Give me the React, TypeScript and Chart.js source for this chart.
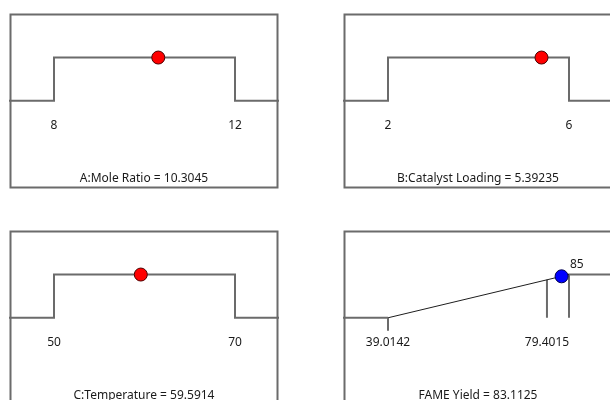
import React, { useEffect, useRef } from "react";
import { Chart, registerables } from "chart.js";

Chart.register(...registerables);

// Factor ramps: name, goal range and optimum setting
const factorNames = ["A:Mole Ratio", "B:Catalyst Loading", "C:Temperature"];
const factorLow = [8, 2, 50];
const factorHigh = [12, 6, 70];
const factorOptimum = [10.3045, 5.39235, 59.5914];

// Response ramp (maximize)
const responseName = "FAME Yield";
const responseLow = 39.0142;
const responseObservedMax = 79.4015;
const responseHigh = 85;
const responsePredicted = 83.1125;

const PANEL_W = 270;
const PANEL_H = 176;
const PAD_L = 45 / 181;
const PAD_R = 44 / 181;
const Y_MIN = -2.04;
const Y_MAX = 2.03;
const LINE_GRAY = "#6b6b6b";
const FONT = "12px 'Segoe UI', 'Noto Sans', 'Open Sans', sans-serif";

type PanelSpec = {
  title: string;
  low: number;
  high: number;
  datasets: any[];
  tickLabels: { value: number; text: string }[];
  topLabel?: { value: number; text: string };
};

const line = (data: { x: number; y: number }[], color = LINE_GRAY, width = 2) => ({
  type: "scatter",
  data,
  showLine: true,
  borderColor: color,
  borderWidth: width,
  pointRadius: 0,
  tension: 0,
  fill: false,
  order: 2,
});

const dot = (x: number, y: number, fill: string, stroke: string) => ({
  type: "scatter",
  data: [{ x, y }],
  showLine: false,
  pointRadius: 6.5,
  pointBackgroundColor: fill,
  pointBorderColor: stroke,
  pointBorderWidth: 1,
  order: 0,
});

function factorSpec(i: number): PanelSpec {
  const lo = factorLow[i];
  const hi = factorHigh[i];
  const span = hi - lo;
  return {
    title: `${factorNames[i]} = ${factorOptimum[i]}`,
    low: lo,
    high: hi,
    datasets: [
      line([
        { x: lo - span, y: 0 },
        { x: lo, y: 0 },
        { x: lo, y: 1 },
        { x: hi, y: 1 },
        { x: hi, y: 0 },
        { x: hi + span, y: 0 },
      ]),
      dot(factorOptimum[i], 1, "#ff0000", "#4a0000"),
    ],
    tickLabels: [
      { value: lo, text: String(lo) },
      { value: hi, text: String(hi) },
    ],
  };
}

function responseSpec(): PanelSpec {
  const lo = responseLow;
  const hi = responseHigh;
  const span = hi - lo;
  const d = (v: number) => Math.max(0, Math.min(1, (v - lo) / span));
  return {
    title: `${responseName} = ${responsePredicted}`,
    low: lo,
    high: hi,
    datasets: [
      line([
        { x: lo - span, y: 0 },
        { x: lo, y: 0 },
      ]),
      line([
        { x: lo, y: 0 },
        { x: lo, y: -0.3 },
      ]),
      line(
        [
          { x: lo, y: 0 },
          { x: hi, y: 1 },
        ],
        "#1e1e1e",
        1
      ),
      line([
        { x: responseObservedMax, y: d(responseObservedMax) },
        { x: responseObservedMax, y: 0 },
      ]),
      line([
        { x: hi, y: 0 },
        { x: hi, y: 1 },
        { x: hi + span, y: 1 },
      ]),
      dot(responsePredicted, d(responsePredicted), "#0000ff", "#00004a"),
    ],
    tickLabels: [
      { value: lo, text: String(lo) },
      { value: responseObservedMax, text: String(responseObservedMax) },
    ],
    topLabel: { value: hi, text: String(hi) },
  };
}

function Panel({ spec, left, top }: { spec: PanelSpec; left: number; top: number }) {
  const ref = useRef<HTMLCanvasElement>(null);

  useEffect(() => {
    if (!ref.current) return;
    const span = spec.high - spec.low;
    const labels = {
      id: "rampLabels",
      afterDatasetsDraw(chart: any) {
        const { ctx, scales } = chart;
        const xs = scales.x;
        const ys = scales.y;
        ctx.save();
        ctx.font = FONT;
        ctx.fillStyle = "#1a1a1a";
        ctx.textBaseline = "middle";
        ctx.textAlign = "center";
        for (const t of spec.tickLabels) {
          ctx.fillText(t.text, xs.getPixelForValue(t.value), ys.getPixelForValue(-0.58));
        }
        if (spec.topLabel) {
          ctx.textAlign = "left";
          ctx.fillText(
            spec.topLabel.text,
            xs.getPixelForValue(spec.topLabel.value) + 1,
            ys.getPixelForValue(1.22)
          );
        }
        ctx.textAlign = "center";
        ctx.fillText(spec.title, chart.width / 2, chart.height - 10);
        ctx.restore();
      },
      afterDraw(chart: any) {
        const { ctx } = chart;
        ctx.save();
        ctx.strokeStyle = LINE_GRAY;
        ctx.lineWidth = 2;
        ctx.strokeRect(1.5, 1.5, chart.width - 3, chart.height - 3);
        ctx.restore();
      },
    };

    const chart = new Chart(ref.current, {
      type: "scatter",
      data: { datasets: spec.datasets },
      options: {
        animation: false,
        responsive: false,
        devicePixelRatio: 1,
        layout: { padding: 0, autoPadding: false },
        plugins: { legend: { display: false }, tooltip: { enabled: false }, title: { display: false } },
        scales: {
          x: {
            type: "linear",
            display: false,
            min: spec.low - PAD_L * span,
            max: spec.high + PAD_R * span,
          },
          y: { type: "linear", display: false, min: Y_MIN, max: Y_MAX },
        },
      },
      plugins: [labels],
    } as any);
    return () => chart.destroy();
  }, [spec]);

  return (
    <canvas
      ref={ref}
      width={PANEL_W}
      height={PANEL_H}
      style={{ position: "absolute", left, top, width: PANEL_W, height: PANEL_H }}
    />
  );
}

const specs = [factorSpec(0), factorSpec(1), factorSpec(2), responseSpec()];
const positions = [
  { left: 9, top: 13 },
  { left: 343, top: 13 },
  { left: 9, top: 230 },
  { left: 343, top: 230 },
];

export default function App() {
  return (
    <div
      style={{
        position: "fixed",
        left: 0,
        top: 0,
        width: 610,
        height: 400,
        overflow: "hidden",
        background: "#ffffff",
      }}
    >
      {specs.map((s, i) => (
        <Panel key={i} spec={s} left={positions[i].left} top={positions[i].top} />
      ))}
    </div>
  );
}
